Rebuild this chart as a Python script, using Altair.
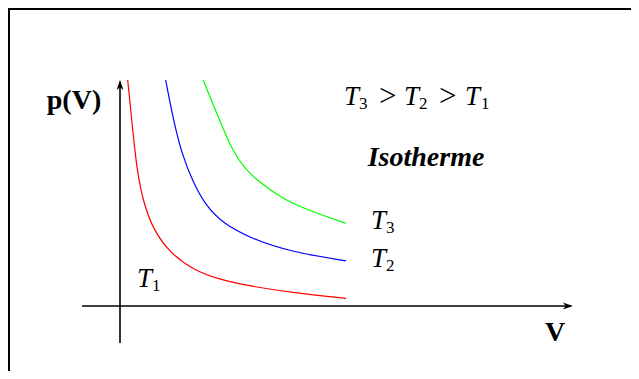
import altair as alt
import pandas as pd

# Isotherm curves p(V) (arbitrary units)
red_V = [0.17, 0.26, 0.37, 0.52, 0.74, 1.11, 1.62, 2.21, 2.88, 3.83, 5.0]
red_p = [5.0, 4.12, 3.01, 2.28, 1.68, 1.17, 0.80, 0.58, 0.44, 0.29, 0.17]
blue_V = [1.01, 1.18, 1.36, 1.62, 1.92, 2.28, 2.88, 3.76, 5.0]
blue_p = [5.0, 4.12, 3.39, 2.72, 2.19, 1.83, 1.50, 1.20, 1.00]
green_V = [1.84, 2.14, 2.51, 2.76, 3.02, 3.61, 4.35, 5.0]
green_p = [5.0, 4.26, 3.38, 3.05, 2.79, 2.35, 2.05, 1.83]

curve_names = ["T1", "T2", "T3"]
curve_colors = ["#ff0000", "#0000ff", "#00ff00"]

rows = []
for name, vs, ps in zip(curve_names, [red_V, blue_V, green_V], [red_p, blue_p, green_p]):
    for i, (v, p) in enumerate(zip(vs, ps)):
        rows.append({"curve": name, "V": v, "p": p, "order": i})
curves_df = pd.DataFrame(rows)

# Axis extents
x_axis_V = [-0.84, 9.98]
y_axis_p = [-0.82, 4.96]

W, H = 623, 363
k = 45.2
ox, oy = 120, 306
x_scale = alt.Scale(domain=[(8 - ox) / k, (631 - ox) / k], zero=False, nice=False)
y_scale = alt.Scale(domain=[(oy - 371) / k, (oy - 8) / k], zero=False, nice=False)

X = lambda f: alt.X(f, type="quantitative", scale=x_scale, axis=None)
Y = lambda f: alt.Y(f, type="quantitative", scale=y_scale, axis=None)

lines = alt.Chart(curves_df).mark_line(strokeWidth=1.2, interpolate="basis").encode(
    x=X("V"), y=Y("p"),
    color=alt.Color("curve:N", scale=alt.Scale(domain=curve_names, range=curve_colors), legend=None),
    detail="curve:N",
    order="order:Q",
)

xaxis_df = pd.DataFrame({"V": [x_axis_V[0]], "V2": [x_axis_V[1]], "p": [0.0]})
yaxis_df = pd.DataFrame({"V": [0.0], "p": [y_axis_p[0]], "p2": [y_axis_p[1]]})

xaxis = alt.Chart(xaxis_df).mark_rule(color="black", strokeWidth=1.6).encode(
    x=X("V"), x2="V2", y=Y("p"))
yaxis = alt.Chart(yaxis_df).mark_rule(color="black", strokeWidth=1.6).encode(
    x=X("V"), y=Y("p"), y2="p2")

arrow_right = "M0,0 L-1,-0.34 L-0.72,0 L-1,0.34 Z"
arrow_up = "M0,0 L-0.34,1 L0,0.72 L0.34,1 Z"

xhead = alt.Chart(pd.DataFrame({"V": [10.02], "p": [0.0]})).mark_point(
    shape=arrow_right, filled=True, color="black", size=400, opacity=1, strokeWidth=0.5
).encode(x=X("V"), y=Y("p"))
yhead = alt.Chart(pd.DataFrame({"V": [0.0], "p": [5.0]})).mark_point(
    shape=arrow_up, filled=True, color="black", size=400, opacity=1, strokeWidth=0.5
).encode(x=X("V"), y=Y("p"))

# frame (left and top edges; the rest runs off the picture)
frame_left = alt.Chart(xaxis_df).mark_rule(color="black", strokeWidth=2).encode(
    x=alt.value(1), y=alt.value(0), y2=alt.value(H))
frame_top = alt.Chart(xaxis_df).mark_rule(color="black", strokeWidth=2).encode(
    y=alt.value(1), x=alt.value(0), x2=alt.value(W))

FONT = "Liberation Serif"

# text pieces: (text, left px, baseline px, size, style, weight)
pieces = [
    ("T", 344, 105, 27, "italic", "normal"),
    ("3", 359, 109, 17, "normal", "normal"),
    (">", 379, 106, 31, "normal", "normal"),
    ("T", 404, 105, 27, "italic", "normal"),
    ("2", 419, 109, 17, "normal", "normal"),
    (">", 439, 106, 31, "normal", "normal"),
    ("T", 465, 105, 27, "italic", "normal"),
    ("1", 481, 109, 17, "normal", "normal"),
    ("T", 371, 229, 27, "italic", "normal"),
    ("3", 386, 233, 17, "normal", "normal"),
    ("T", 371, 267, 27, "italic", "normal"),
    ("2", 386, 271, 17, "normal", "normal"),
    ("T", 137, 287, 27, "italic", "normal"),
    ("1", 152, 291, 17, "normal", "normal"),
]

def piece_layer(text, px, py, size, style, weight, align="left"):
    df = pd.DataFrame({"V": [(px - ox) / k], "p": [(oy - py) / k], "t": [text]})
    return alt.Chart(df).mark_text(
        font=FONT, fontSize=size, align=align, baseline="alphabetic",
        fontStyle=style, fontWeight=weight, color="black",
    ).encode(x=X("V"), y=Y("p"), text="t:N")

texts = [piece_layer(*pc) for pc in pieces]
texts += [
    piece_layer("p(V)", 74, 109, 28, "normal", "bold", align="center"),
    piece_layer("V", 555, 341, 28, "normal", "bold", align="center"),
    piece_layer("Isotherme", 426, 166, 28, "italic", "bold", align="center"),
]

chart = alt.layer(frame_left, frame_top, xaxis, yaxis, xhead, yhead, lines, *texts).properties(
    width=W, height=H, padding=0, autosize=alt.AutoSizeParams(type="none")
).configure_view(stroke=None)

chart.save("out.html", embed_options={"renderer": "svg", "actions": False})
